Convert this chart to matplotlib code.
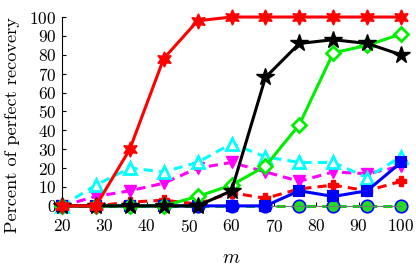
import matplotlib
matplotlib.use("Agg")
import matplotlib.pyplot as plt

plt.rcParams["font.family"] = "serif"
plt.rcParams["font.serif"] = ["cmr10", "DejaVu Serif"]
plt.rcParams["mathtext.fontset"] = "cm"
plt.rcParams["axes.formatter.use_mathtext"] = True

m = [20, 28, 36, 44, 52, 60, 68, 76, 84, 92, 100]

green_circle = [0, 0, 0, 0, 0, 0, 0, 0, 0, 0, 0]
blue_square = [0, 0, 0, 0, 0, 0, 0, 8, 5, 8, 23]
red_plus = [0, 0, 2, 3, 1, 7, 4, 9, 11, 8, 13]
magenta_tri = [0, 5, 8, 12, 20, 23, 18, 13, 18, 17, 21]
cyan_tri = [0, 11, 20, 18, 23, 33, 26, 23, 23, 15, 26]
green_diamond = [0, 0, 0, 0, 5, 11, 21, 43, 81, 85, 91]
black_star = [0, 0, 0, 0, 0, 8, 68, 86, 88, 86, 80]
red_hex = [0, 0, 30, 78, 98, 100, 100, 100, 100, 100, 100]

fig = plt.figure(figsize=(4.16, 2.66), dpi=100)
ax = fig.add_axes([0.149, 0.226, 0.815, 0.71])

lw = 2.2
ax.plot(m, green_circle, color="#00dd00", ls=(0, (3, 2)), lw=lw, marker="o",
        ms=9, mfc="#22dd22", mec="blue", mew=1.2, clip_on=False, zorder=2)
ax.plot(m, blue_square, color="blue", ls="-", lw=lw, marker="s",
        ms=7.5, mfc="blue", mec="blue", mew=1.5, clip_on=False, zorder=3)
ax.plot(m, red_plus, color="red", ls=(0, (3, 2)), lw=lw, marker="P",
        ms=7, mfc="red", mec="red", clip_on=False, zorder=2)
ax.plot(m, magenta_tri, color="magenta", ls=(0, (3, 2)), lw=lw, marker="v",
        ms=9, mfc="magenta", mec="magenta", clip_on=False, zorder=2)
ax.plot(m, cyan_tri, color="cyan", ls=(0, (3, 2)), lw=lw, marker="^",
        ms=9, mfc="white", mec="cyan", mew=2, clip_on=False, zorder=2)
ax.plot(m, green_diamond, color="#00ee00", ls="-", lw=lw, marker="D",
        ms=7, mfc="white", mec="#00ee00", mew=2, clip_on=False, zorder=3)
ax.plot(m, black_star, color="black", ls="-", lw=lw, marker="*",
        ms=13, mfc="black", mec="black", clip_on=False, zorder=4)
ax.plot(m, red_hex, color="red", ls="-", lw=lw, marker=(6, 1, 0),
        ms=11, mfc="red", mec="red", clip_on=False, zorder=5)

ax.set_xlim(20, 100)
ax.set_ylim(0, 100)
ax.set_xticks(range(20, 101, 10))
ax.set_yticks(range(0, 101, 10))
ax.spines["top"].set_visible(False)
ax.spines["right"].set_visible(False)
ax.spines["bottom"].set_color("#777777")
ax.tick_params(direction="in", labelsize=12.5, length=3)
ax.tick_params(axis="x", pad=9)
ax.tick_params(axis="y", pad=4)
ax.set_xlabel("$m$", fontsize=14, labelpad=10)
ax.set_ylabel("Percent of perfect recovery", fontsize=13.2, va="center")
ax.yaxis.set_label_coords(-0.145, 0.43)

fig.savefig("out.png", dpi=100)
